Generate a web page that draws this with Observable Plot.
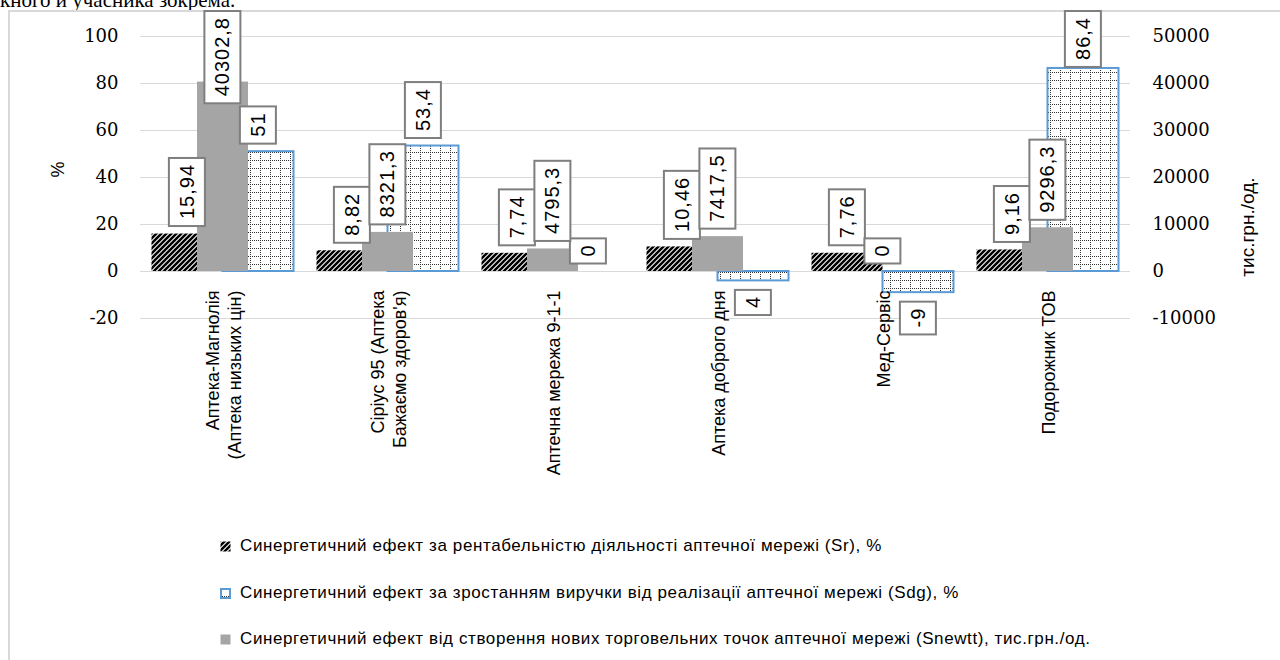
<!DOCTYPE html>
<html>
<head>
<meta charset="utf-8">
<script src="https://cdn.jsdelivr.net/npm/d3@7"></script>
<script src="https://cdn.jsdelivr.net/npm/@observablehq/plot@0.6"></script>
<style>
  html, body { margin: 0; padding: 0; background: #fff; }
  body { width: 1280px; height: 660px; overflow: hidden; position: relative; font-family: "Liberation Sans", Arial, sans-serif; }
  #cut { position: absolute; left: 0; top: -12px; font: 21px/24px "Liberation Serif", serif; white-space: nowrap; color: #000; }
  #frame { position: absolute; left: 8px; top: 10px; width: 1300px; height: 700px; border-left: 2px solid #d9d9d9; border-top: 2px solid #d9d9d9; background: transparent; }
  #chart { position: absolute; left: 0; top: 0; }
  .leg { position: absolute; left: 220px; height: 20px; display: flex; align-items: center; font-size: 17px; letter-spacing: 0.6px; white-space: nowrap; color: #000; }
  .leg svg { margin-right: 9px; flex: none; }
</style>
</head>
<body>
<div id="cut">кного й учасника зокрема.</div>
<div id="frame"></div>
<div id="chart"></div>
<div id="legend"></div>
<script>
// ---------- data ----------
const categories = [
  "Аптека-Магнолія\n(Аптека низьких цін)",
  "Сіріус 95 (Аптека\nБажаємо здоров'я)",
  "Аптечна мережа 9-1-1",
  "Аптека доброго дня",
  "Мед-Сервіс",
  "Подорожник ТОВ"
];
const srValues = [15.94, 8.82, 7.74, 10.46, 7.76, 9.16];          // %, left axis
const sdgValues = [51, 53.4, 0, -4, -9, 86.4];                     // %, left axis
const sdgLabels = ["51", "53,4", "0", "4", "-9", "86,4"];
const snewttValues = [40302.8, 8321.3, 4795.3, 7417.5, 0, 9296.3]; // тис.грн./од., right axis
const leftTicks = [-20, 0, 20, 40, 60, 80, 100];
const rightTicks = [-10000, 0, 10000, 20000, 30000, 40000, 50000];
const seriesNames = [
  "Синергетичний ефект за рентабельністю діяльності аптечної мережі (Sr), %",
  "Синергетичний ефект за зростанням виручки від реалізації аптечної мережі (Sdg), %",
  "Синергетичний ефект від створення нових торговельних точок аптечної мережі (Snewtt), тис.грн./од."
];
const leftTitle = "%";
const rightTitle = "тис.грн./од.";

// ---------- build ----------
const ratio = rightTicks[rightTicks.length - 1] / leftTicks[leftTicks.length - 1];
const rows = categories.map((c, i) => ({
  c, sr: srValues[i], sdg: sdgValues[i], sdgLabel: sdgLabels[i], sn: snewttValues[i]
}));
const fmt = v => String(v).replace(".", ",");
const NS = "http://www.w3.org/2000/svg";

function defs() {
  const d = document.createElementNS(NS, "defs");
  d.innerHTML = `
    <pattern id="hatchSr" patternUnits="userSpaceOnUse" width="5" height="5">
      <rect width="5" height="5" fill="#fff"/>
      <path d="M-1,1 L1,-1 M0,5 L5,0 M4,6 L6,4" stroke="#000" stroke-width="2.5"/>
    </pattern>
    <pattern id="gridSdg" patternUnits="userSpaceOnUse" width="10" height="8">
      <rect width="10" height="8" fill="#fff"/>
      <line x1="0" y1="0.5" x2="10" y2="0.5" stroke="#333" stroke-width="1" stroke-dasharray="1,1"/>
      <line x1="0.5" y1="0" x2="0.5" y2="8" stroke="#333" stroke-width="1" stroke-dasharray="1,1"/>
    </pattern>`;
  return d;
}

const labelFont = {fontSize: 20, fontFamily: "Liberation Sans, Arial, sans-serif", fill: "#000", ariaDescription: "data-label"};
const axisFont = {fontSize: 18, fontFamily: "DejaVu Serif, serif", fill: "#000"};

const chart = Plot.plot({
  width: 1280,
  height: 500,
  marginLeft: 140,
  marginRight: 150,
  marginTop: 36,
  marginBottom: 182,
  style: {background: "transparent", overflow: "visible", fontFamily: "Liberation Sans, Arial, sans-serif"},
  x: {type: "band", domain: categories, padding: 0, axis: null},
  y: {domain: [leftTicks[0], leftTicks[leftTicks.length - 1]]},
  marks: [
    defs,
    Plot.ruleY(leftTicks, {stroke: "#d9d9d9", strokeWidth: 1}),
    Plot.axisY({anchor: "left", ticks: leftTicks, tickSize: 0, tickPadding: 22, tickFormat: d => String(d), label: null, ...axisFont}),
    Plot.axisY({anchor: "right", ticks: leftTicks, tickSize: 0, tickPadding: 22, tickFormat: d => String(d * ratio), label: null, ...axisFont}),
    // primary series (left axis)
    Plot.barY(rows, {x: "c", y: "sr", fill: "url(#hatchSr)", insetLeft: 11.5, insetRight: 82.5}),
    Plot.barY(rows, {x: "c", y: "sdg", fill: "url(#gridSdg)", stroke: "#5b9bd5", strokeWidth: 2, insetLeft: 82.5, insetRight: 11.5}),
    // secondary series (right axis)
    Plot.barY(rows, {x: "c", y: d => d.sn / ratio, fill: "#a5a5a5", insetLeft: 57, insetRight: 57}),
    // data labels
    Plot.text(rows, {x: "c", y: "sr", text: d => fmt(d.sr), rotate: -90, textAnchor: "start", lineAnchor: "middle", dx: -35.5, dy: -15, ...labelFont}),
    Plot.text(rows.filter(d => d.sdg >= 0), {x: "c", y: "sdg", text: "sdgLabel", rotate: -90, textAnchor: "start", lineAnchor: "middle", dx: 35.5, dy: -15, ...labelFont}),
    Plot.text(rows.filter(d => d.sdg < 0), {x: "c", y: "sdg", text: "sdgLabel", rotate: -90, textAnchor: "end", lineAnchor: "middle", dx: 35.5, dy: 15, ...labelFont}),
    Plot.text(rows, {x: "c", y: d => d.sn / ratio, text: d => fmt(d.sn), rotate: -90, textAnchor: "start", lineAnchor: "middle", dx: 0, dy: -15, ...labelFont}),
    // category labels
    Plot.text(categories, {x: d => d, frameAnchor: "bottom", rotate: -90, textAnchor: "end", lineAnchor: "middle", dy: -28, lineHeight: 1.22, fontSize: 18, fontFamily: "Liberation Sans, Arial, sans-serif", fill: "#000"}),
    // axis titles
    Plot.text([leftTitle], {frameAnchor: "left", dx: -82, rotate: -90, fontSize: 18, fontFamily: "Liberation Sans, Arial, sans-serif", fill: "#000"}),
    Plot.text([rightTitle], {frameAnchor: "right", dx: 117, rotate: -90, fontSize: 19, fontFamily: "Liberation Sans, Arial, sans-serif", fill: "#000"})
  ]
});

document.getElementById("chart").append(chart);

// boxes around data labels (Excel-style callouts), kept inside the chart area top
const svgTop = chart.getBoundingClientRect().top;
chart.querySelectorAll('g[aria-description="data-label"]').forEach(g => {
  g.setAttribute("letter-spacing", "1");
  g.querySelectorAll("text").forEach(t => {
    const bb = t.getBBox();
    const r = document.createElementNS(NS, "rect");
    r.setAttribute("x", bb.x - 7);
    r.setAttribute("y", bb.y - 7);
    r.setAttribute("width", bb.width + 13);
    r.setAttribute("height", bb.height + 14);
    r.setAttribute("fill", "#fff");
    r.setAttribute("stroke", "#7f7f7f");
    r.setAttribute("stroke-width", "2");
    const tr = t.getAttribute("transform") || "";
    r.setAttribute("transform", tr);
    g.insertBefore(r, t);
    const top = r.getBoundingClientRect().top - svgTop;
    if (top < 11) {
      const shift = 11 - top;
      r.setAttribute("transform", `translate(0,${shift}) ` + tr);
      t.setAttribute("transform", `translate(0,${shift}) ` + tr);
    }
  });
});

// legend
const legend = document.getElementById("legend");
const markers = [
  `<svg width="11" height="11"><rect x="0.5" y="0.5" width="10" height="10" fill="url(#hatchSr)"/></svg>`,
  `<svg width="11" height="11"><rect x="1" y="1" width="9" height="9" fill="url(#gridSdg)" stroke="#5b9bd5" stroke-width="2"/></svg>`,
  `<svg width="11" height="11"><rect x="0.5" y="0.5" width="10" height="10" fill="#a5a5a5"/></svg>`
];
const legendCenters = [546, 593, 639];
seriesNames.forEach((name, i) => {
  const div = document.createElement("div");
  div.className = "leg";
  div.style.top = (legendCenters[i] - 10) + "px";
  div.innerHTML = markers[i] + `<span>${name}</span>`;
  legend.append(div);
});
</script>
</body>
</html>
